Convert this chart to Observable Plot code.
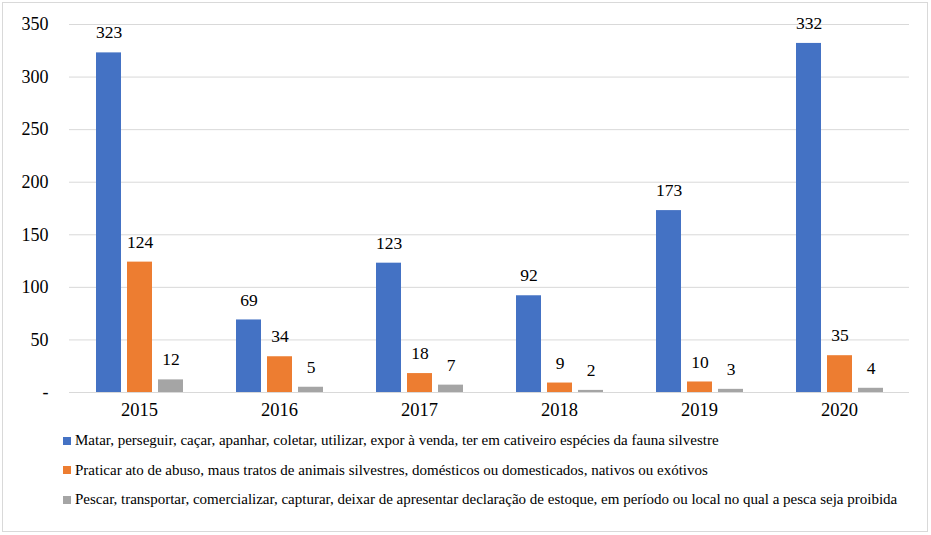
<!DOCTYPE html>
<html>
<head>
<meta charset="utf-8">
<script src="https://cdn.jsdelivr.net/npm/d3@7"></script>
<script src="https://cdn.jsdelivr.net/npm/@observablehq/plot@0.6"></script>
<style>
  body { margin: 0; background: #fff; font-family: 'Liberation Serif', 'DejaVu Serif', serif; }
  #wrap { position: relative; width: 931px; height: 535px; }
  #border { position: absolute; left: 2px; top: 2px; width: 924px; height: 528px; border: 1px solid #d9d9d9; pointer-events: none; }
  #chart { position: absolute; left: 0; top: 0; }
  #chart svg, #chart svg text { font-family: 'Liberation Serif', 'DejaVu Serif', serif !important; }
  #legend { position: absolute; left: 63px; top: 426px; font-size: 15px; color: #000; }
  .row { height: 29.5px; line-height: 29.5px; display: flex; align-items: center; white-space: nowrap; }
  .sw { width: 8px; height: 8px; margin-right: 4px; flex: none; }
</style>
</head>
<body>
<div id="wrap">
  <div id="chart"></div>
  <div id="legend"></div>
  <div id="border"></div>
</div>
<script>
const years = [2015, 2016, 2017, 2018, 2019, 2020];
const seriesNames = [
  "Matar, perseguir, caçar, apanhar, coletar, utilizar, expor à venda, ter em cativeiro espécies da fauna silvestre",
  "Praticar ato de abuso, maus tratos de animais silvestres, domésticos ou domesticados, nativos ou exótivos",
  "Pescar, transportar, comercializar, capturar, deixar de apresentar declaração de estoque, em período ou local no qual a pesca seja proibida"
];
const matar = [323, 69, 123, 92, 173, 332];
const praticar = [124, 34, 18, 9, 10, 35];
const pescar = [12, 5, 7, 2, 3, 4];
const colors = ["#4472C4", "#ED7D31", "#A5A5A5"];
const yTicks = [0, 50, 100, 150, 200, 250, 300, 350];

const seriesValues = [matar, praticar, pescar];
const data = [];
years.forEach((yr, i) => {
  seriesNames.forEach((s, j) => data.push({year: yr, series: s, value: seriesValues[j][i]}));
});

const chart = Plot.plot({
  width: 931,
  height: 425,
  marginLeft: 69,
  marginRight: 22,
  marginTop: 24,
  marginBottom: 33,
  style: {fontSize: "17px", color: "#000", background: "transparent"},
  fx: {domain: years, padding: 0, label: null, axis: null},
  x: {domain: seriesNames, axis: null, paddingInner: 0.2, paddingOuter: 0.85},
  y: {domain: [0, 350], label: null, axis: null},
  color: {domain: seriesNames, range: colors},
  marks: [
    Plot.gridY(yTicks, {stroke: "#d9d9d9", strokeOpacity: 1, strokeWidth: 1}),
    Plot.barY(data, {fx: "year", x: "series", y: "value", fill: "series"}),
    Plot.text(data, {fx: "year", x: "series", y: "value", text: d => String(d.value), dy: -20, fontSize: 17.5, fill: "#000"}),
    Plot.axisY(yTicks, {tickSize: 0, tickPadding: 21, tickFormat: d => d === 0 ? "-" : String(d), fontSize: 18, label: null}),
    Plot.axisFx({anchor: "bottom", tickSize: 0, tickPadding: 10, fontSize: 18.5, label: null, tickFormat: d => String(d)})
  ]
});
document.getElementById("chart").appendChild(chart);

const legend = document.getElementById("legend");
seriesNames.forEach((s, j) => {
  const row = document.createElement("div");
  row.className = "row";
  const sw = document.createElement("span");
  sw.className = "sw";
  sw.style.background = colors[j];
  const t = document.createElement("span");
  t.textContent = s;
  row.appendChild(sw);
  row.appendChild(t);
  legend.appendChild(row);
});
</script>
</body>
</html>
